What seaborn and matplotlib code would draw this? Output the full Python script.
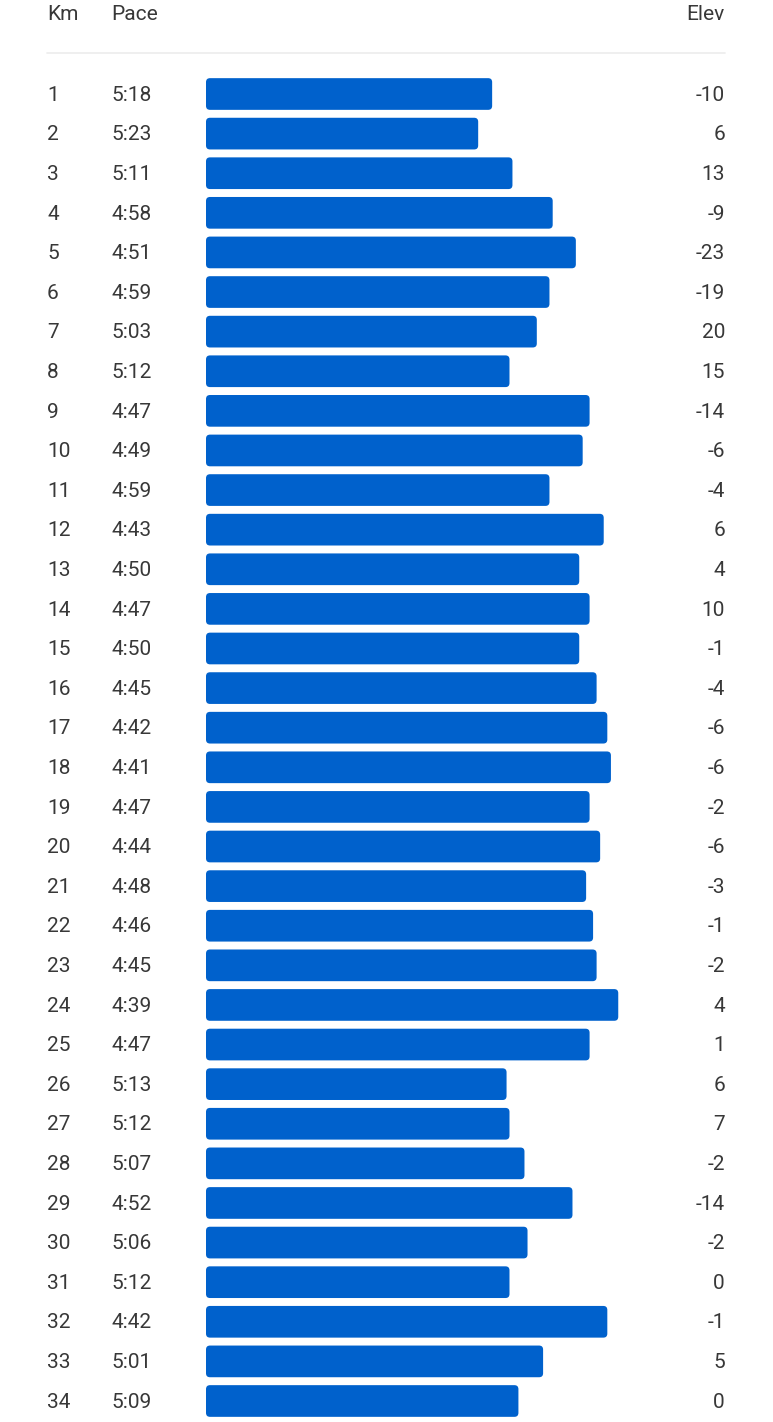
import matplotlib
matplotlib.use("Agg")
import matplotlib.pyplot as plt
import matplotlib.transforms as mtransforms
from matplotlib.patches import FancyBboxPatch
import seaborn as sns
import pandas as pd

km = list(range(1, 35))
pace = ["5:18", "5:23", "5:11", "4:58", "4:51", "4:59", "5:03", "5:12", "4:47", "4:49",
        "4:59", "4:43", "4:50", "4:47", "4:50", "4:45", "4:42", "4:41", "4:47", "4:44",
        "4:48", "4:46", "4:45", "4:39", "4:47", "5:13", "5:12", "5:07", "4:52", "5:06",
        "5:12", "4:42", "5:01", "5:09"]
elev = [-10, 6, 13, -9, -23, -19, 20, 15, -14, -6, -4, 6, 4, 10, -1, -4, -6, -6, -2, -6,
        -3, -1, -2, 4, 1, 6, 7, -2, -14, -2, 0, -1, 5, 0]

# bars show speed (km/h) above a baseline
base_kmh = 7.73
secs = [int(p.split(":")[0]) * 60 + int(p.split(":")[1]) for p in pace]
speed = [3600 / s for s in secs]
df = pd.DataFrame({"km": [str(k) for k in km], "bar": [v - base_kmh for v in speed]})

W, H = 773, 1422
fig = plt.figure(figsize=(W / 100, H / 100), dpi=100)
sns.set_style("white")
plt.rcParams['font.family'] = ['Roboto', 'DejaVu Sans']

row = 39.6
top_px = 94 - row / 2
bot_px = 1401 + row / 2
left_px, right_px = 206, 725
ax = fig.add_axes([left_px / W, (H - bot_px) / H, (right_px - left_px) / W, (bot_px - top_px) / H])

blue = "#0061CC"
sns.barplot(data=df, x="bar", y="km", orient="h", color=blue, width=0.8,
            saturation=1, ax=ax)
ax.set_xlim(0, (right_px - left_px) / 79.69)
ax.set_ylim(len(km) - 0.5, -0.5)
ax.axis("off")

# rounded corners
fig.canvas.draw()
x_per_px = (ax.get_xlim()[1] - ax.get_xlim()[0]) / (right_px - left_px)
y_per_px = 1 / row
r = 4 * x_per_px
for p in list(ax.patches):
    x, y, w, h = p.get_x(), p.get_y(), p.get_width(), p.get_height()
    p.remove()
    ax.add_patch(FancyBboxPatch((x, y), w, h,
                                boxstyle=f"round,pad=0,rounding_size={r}",
                                mutation_aspect=y_per_px / x_per_px,
                                facecolor=blue, edgecolor="none"))

txt = "#383838"
fs = 15
dy = 1.2 / row
trans = mtransforms.blended_transform_factory(fig.transFigure, ax.transData)
for i in range(len(km)):
    ax.text(47 / W, i + dy, str(km[i]), transform=trans, ha="left", va="center",
            fontsize=fs, color=txt)
    ax.text(111 / W, i + dy, pace[i], transform=trans, ha="left", va="center",
            fontsize=fs, color=txt)
    ax.text(725 / W, i + dy, str(elev[i]), transform=trans, ha="right", va="center",
            fontsize=fs, color=txt)

hy = 1 - 15 / H
fig.text(47 / W, hy, "Km", ha="left", va="center", fontsize=fs, color=txt)
fig.text(111 / W, hy, "Pace", ha="left", va="center", fontsize=fs, color=txt)
fig.text(725 / W, hy, "Elev", ha="right", va="center", fontsize=fs, color=txt)
fig.add_artist(plt.Line2D([47 / W, 725 / W], [1 - 53 / H, 1 - 53 / H],
                          transform=fig.transFigure, color="#ececec", lw=1.2))

fig.savefig("out.png", dpi=100)
